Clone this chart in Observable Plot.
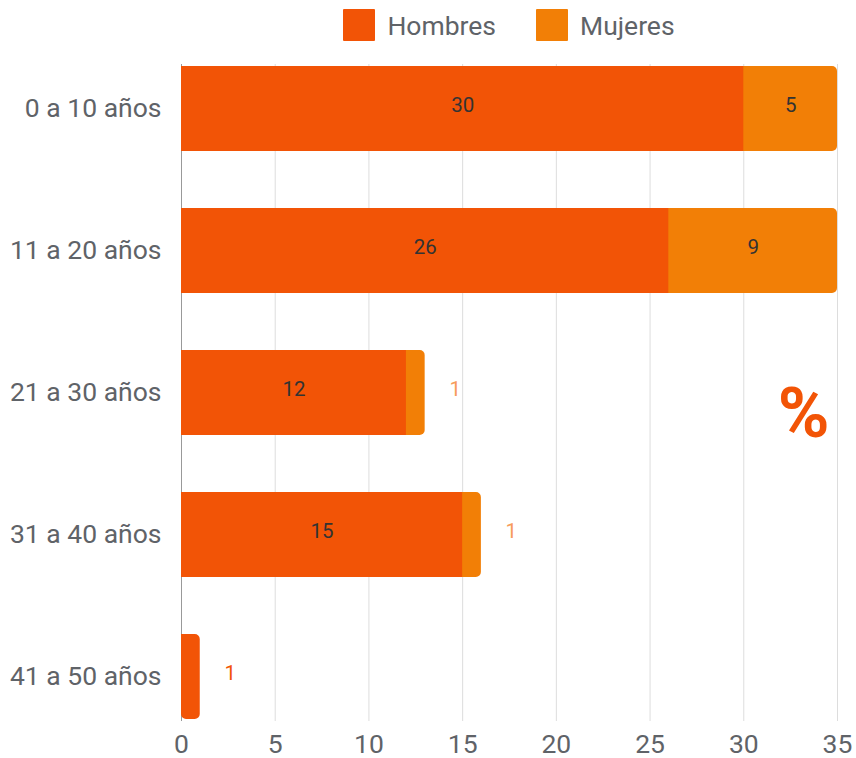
<!DOCTYPE html>
<html>
<head>
<meta charset="utf-8">
<script src="https://cdn.jsdelivr.net/npm/d3@7"></script>
<script src="https://cdn.jsdelivr.net/npm/@observablehq/plot@0.6"></script>
<style>
  body { margin: 0; background: #fff; font-family: Roboto, sans-serif; }
  #wrap { width: 856px; }
  #legend { height: 50px; box-sizing: border-box; padding: 9px 19px 0 181px; display: flex; justify-content: center; gap: 40px; font-size: 26.5px; color: #5f6368; }
  .item { display: flex; align-items: center; gap: 12px; height: 32px; }
  .sw { width: 32px; height: 32px; border-radius: 1px; }
</style>
</head>
<body>
<div id="wrap">
  <div id="legend"></div>
  <div id="chart"></div>
</div>
<script>
const categories = ["0 a 10 años", "11 a 20 años", "21 a 30 años", "31 a 40 años", "41 a 50 años"];
const hombres = [30, 26, 12, 15, 1];
const mujeres = [5, 9, 1, 1, 0];
const seriesNames = ["Hombres", "Mujeres"];
const seriesColors = ["#f25406", "#f27f06"];
const xTicks = [0, 5, 10, 15, 20, 25, 30, 35];
const unitLabel = "%";

const legend = document.getElementById("legend");
seriesNames.forEach((n, i) => {
  const it = document.createElement("div");
  it.className = "item";
  it.innerHTML = `<span class="sw" style="background:${seriesColors[i]}"></span><span>${n}</span>`;
  legend.appendChild(it);
});

const rows = categories.map((c, i) => ({cat: c, h: hombres[i], m: mujeres[i], total: hombres[i] + mujeres[i]}));
const SMALL = 3;

const inside = [];
const outside = [];
rows.forEach(r => {
  if (r.h >= SMALL) inside.push({cat: r.cat, x: r.h / 2, v: r.h});
  else if (r.h > 0) outside.push({cat: r.cat, x: r.total, v: r.h, s: 0});
  if (r.m >= SMALL) inside.push({cat: r.cat, x: r.h + r.m / 2, v: r.m});
  else if (r.m > 0) outside.push({cat: r.cat, x: r.total, v: r.m, s: 1});
});

const chart = Plot.plot({
  width: 856,
  height: 708,
  marginTop: 14,
  marginBottom: 37,
  marginLeft: 181,
  marginRight: 19,
  style: {fontFamily: "Roboto, sans-serif", background: "#fff"},
  x: {domain: [0, 35], ticks: xTicks, label: null},
  y: {domain: categories, label: null, paddingInner: 0.4, paddingOuter: 0},
  marks: [
    Plot.gridX(xTicks, {stroke: "#dddddd", strokeOpacity: 1, strokeWidth: 1}),
    Plot.ruleX([0], {stroke: "#999999", strokeWidth: 1}),
    Plot.barX(rows, {y: "cat", x1: 0, x2: "total", fill: d => d.m > 0 ? seriesColors[1] : seriesColors[0], rx2: 5, ry2: 5}),
    Plot.barX(rows.filter(d => d.m > 0), {y: "cat", x1: 0, x2: "h", fill: seriesColors[0]}),
    Plot.text(inside, {y: "cat", x: "x", text: "v", fill: "#333333", fontSize: 20.5, dy: -4}),
    Plot.text(outside, {y: "cat", x: "x", text: "v", fill: d => d.s === 1 ? "#f79b5c" : seriesColors[0], fontSize: 20.5, dx: 30, dy: -4}),
    Plot.text([unitLabel], {frameAnchor: "right", textAnchor: "end", dx: -8, dy: 22, fontSize: 70, fontWeight: "bold", fill: seriesColors[0]}),
    Plot.axisX(xTicks, {tickSize: 0, tickPadding: 13, fontSize: 26.5, fill: "#5f6368", label: null}),
    Plot.axisY({tickSize: 0, tickPadding: 20, fontSize: 26.5, fill: "#5f6368", label: null})
  ]
});
document.getElementById("chart").appendChild(chart);
</script>
</body>
</html>
